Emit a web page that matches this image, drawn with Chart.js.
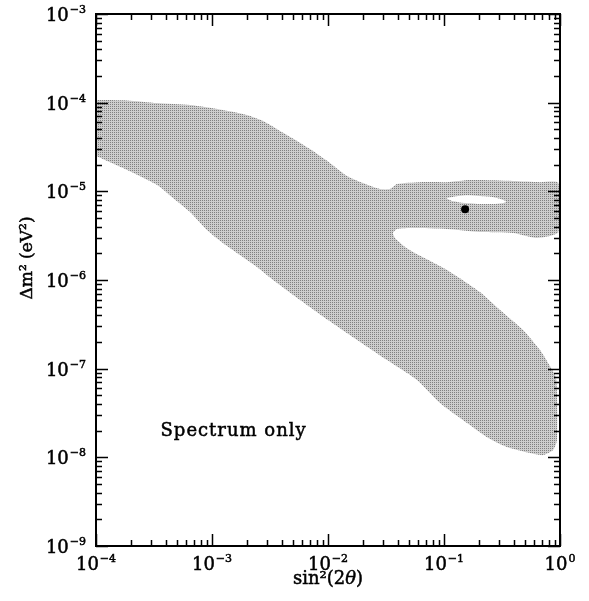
<!DOCTYPE html>
<html>
<head>
<meta charset="utf-8">
<script src="https://cdn.jsdelivr.net/npm/chart.js@4"></script>
<style>
  html, body { margin: 0; padding: 0; background: #fff; }
</style>
</head>
<body>
<canvas id="chart" width="589" height="601"></canvas>
<script>
// allowed region outline, clockwise from the upper-left corner
const regionX = [1e-4, 1.85e-4, 3.36e-4, 6.5e-4, 1.24e-3, 2.0e-3, 2.75e-3, 3.86e-3, 5.41e-3, 7.43e-3,
  1.04e-2, 1.46e-2, 2.0e-2, 2.81e-2, 3.42e-2, 3.93e-2, 6.21e-2, 0.106, 0.168, 0.394,
  0.673, 0.97, 0.97, 0.634, 0.394, 0.204, 0.106, 0.054, 0.0393, 0.0363,
  0.0378, 0.0462, 0.054, 0.106, 0.204, 0.304, 0.480, 0.673, 0.789, 0.925,
  0.942, 0.871, 0.714, 0.551, 0.349, 0.235, 0.158, 0.0924, 0.0585, 0.0323,
  0.0178, 0.0100, 5.74e-3, 3.36e-3, 2.44e-3, 1.74e-3, 1.24e-3, 9.05e-4, 6.46e-4, 4.61e-4,
  3.36e-4, 1.71e-4, 1e-4];
const regionY = [1.07e-4, 1.06e-4, 9.9e-5, 9.4e-5, 8.26e-5, 7.26e-5, 6.21e-5, 4.80e-5, 3.70e-5, 2.85e-5,
  2.09e-5, 1.49e-5, 1.24e-5, 1.06e-5, 1.06e-5, 1.21e-5, 1.27e-5, 1.27e-5, 1.34e-5, 1.31e-5,
  1.27e-5, 1.24e-5, 3.47e-6, 2.98e-6, 3.39e-6, 3.48e-6, 3.76e-6, 3.86e-6, 3.76e-6, 3.39e-6,
  2.98e-6, 2.36e-6, 2.07e-6, 1.30e-6, 7.33e-7, 4.59e-7, 2.73e-7, 1.62e-7, 1.16e-7, 7.85e-8,
  1.57e-8, 1.21e-8, 1.06e-8, 1.12e-8, 1.31e-8, 1.69e-8, 2.44e-8, 4.10e-8, 7.45e-8, 1.25e-7,
  2.11e-7, 3.54e-7, 5.95e-7, 1.0e-6, 1.40e-6, 1.91e-6, 2.61e-6, 3.66e-6, 5.85e-6, 8.41e-6,
  1.18e-5, 1.83e-5, 2.51e-5];

// excluded island inside the upper band
const holeX = [0.104, 0.146, 0.204, 0.286, 0.342, 0.249, 0.152, 0.117];
const holeY = [8.41e-6, 8.98e-6, 8.85e-6, 8.41e-6, 7.59e-6, 7.19e-6, 7.38e-6, 7.78e-6];

// best fit point
const bestX = [0.152];
const bestY = [6.3e-6];

const xTicks = [1e-4, 1e-3, 1e-2, 1e-1, 1];
const yTicks = [1e-9, 1e-8, 1e-7, 1e-6, 1e-5, 1e-4, 1e-3];

const noteText = 'Spectrum only';
const noteX = 3.6e-4;
const noteY = 1.75e-8;

const zip = (xs, ys) => xs.map((x, i) => ({ x, y: ys[i] }));

// stippled grey fill: one dark dot in every 2x2 cell
function makeStipple() {
  const c = document.createElement('canvas');
  c.width = 2; c.height = 2;
  const g = c.getContext('2d');
  g.fillStyle = '#cdcdcd';
  g.fillRect(0, 0, 2, 2);
  g.fillStyle = '#808080';
  g.fillRect(0, 0, 1, 1);
  return g.createPattern(c, 'repeat');
}

const SERIF = '"DejaVu Serif", serif';

// fill plus a thin stroke so the serif text reads a little heavier
function heavyText(ctx, str, x, y) {
  ctx.fillText(str, x, y);
  ctx.strokeText(str, x, y);
}

// "10" with a raised exponent; align is 'right' (y axis) or 'center' (x axis)
function drawPow(ctx, v, x, y, align) {
  const exp = String(Math.round(Math.log10(v))).replace('-', '\u2212');
  ctx.font = '18px ' + SERIF;
  const wBase = ctx.measureText('10').width;
  ctx.font = '11px ' + SERIF;
  const wExp = ctx.measureText(exp).width + 1;
  const total = wBase + wExp;
  const left = align === 'right' ? x - total : x - total / 2;
  ctx.font = '18px ' + SERIF;
  heavyText(ctx, '10', left, y);
  ctx.font = '11px ' + SERIF;
  heavyText(ctx, exp, left + wBase + 1, y - 8);
}

// inward ticks on all four sides, the frame, tick labels and the text
const frameAndText = {
  id: 'frameAndText',
  afterDraw(chart) {
    const { ctx, chartArea: a, scales: { x, y } } = chart;
    ctx.save();
    ctx.strokeStyle = '#000';
    ctx.lineWidth = 1.5;
    ctx.beginPath();
    for (let e = -4; e <= 0; e++) {
      for (let m = 1; m <= 9; m++) {
        const v = m * Math.pow(10, e);
        if (v > 1.0001) break;
        const px = Math.round(x.getPixelForValue(v)) + 0.5;
        const len = m === 1 ? 12 : 6;
        ctx.moveTo(px, a.bottom); ctx.lineTo(px, a.bottom - len);
        ctx.moveTo(px, a.top); ctx.lineTo(px, a.top + len);
      }
    }
    for (let e = -9; e <= -3; e++) {
      for (let m = 1; m <= 9; m++) {
        const v = m * Math.pow(10, e);
        if (v > 1.0001e-3) break;
        const py = Math.round(y.getPixelForValue(v)) + 0.5;
        const len = m === 1 ? 12 : 6;
        ctx.moveTo(a.left, py); ctx.lineTo(a.left + len, py);
        ctx.moveTo(a.right, py); ctx.lineTo(a.right - len, py);
      }
    }
    ctx.stroke();
    ctx.lineWidth = 2;
    ctx.strokeRect(a.left, a.top, a.right - a.left, a.bottom - a.top);

    ctx.fillStyle = '#000';
    ctx.lineWidth = 0.5;
    ctx.textBaseline = 'alphabetic';
    ctx.textAlign = 'left';

    xTicks.forEach(v => drawPow(ctx, v, x.getPixelForValue(v), a.bottom + 24, 'center'));
    yTicks.forEach(v => drawPow(ctx, v, a.left - 10, y.getPixelForValue(v) + 7, 'right'));

    ctx.font = '18px ' + SERIF;
    ctx.letterSpacing = '1px';
    heavyText(ctx, noteText, x.getPixelForValue(noteX), y.getPixelForValue(noteY));
    ctx.letterSpacing = '0px';

    // x axis title: sin²(2θ)
    const runs = [['sin²(2', ''], ['θ', 'italic '], [')', '']];
    let w = 0;
    runs.forEach(r => { ctx.font = r[1] + '18px ' + SERIF; w += ctx.measureText(r[0]).width; });
    let tx = (a.left + a.right) / 2 - w / 2;
    runs.forEach(r => {
      ctx.font = r[1] + '18px ' + SERIF;
      heavyText(ctx, r[0], tx, 584);
      tx += ctx.measureText(r[0]).width;
    });

    // y axis title
    ctx.save();
    ctx.translate(32, 258);
    ctx.rotate(-Math.PI / 2);
    ctx.textAlign = 'center';
    ctx.font = '17px ' + SERIF;
    heavyText(ctx, 'Δm² (eV²)', 0, 0);
    ctx.restore();
    ctx.restore();
  }
};

new Chart(document.getElementById('chart'), {
  type: 'scatter',
  data: {
    datasets: [
      {
        data: zip(bestX, bestY),
        pointRadius: 4,
        pointBackgroundColor: '#000',
        pointBorderWidth: 0,
        order: 1
      },
      {
        data: zip(holeX, holeY),
        showLine: true,
        fill: 'shape',
        backgroundColor: '#fff',
        borderWidth: 0,
        pointRadius: 0,
        tension: 0.4,
        order: 2
      },
      {
        data: zip(regionX, regionY),
        showLine: true,
        fill: 'shape',
        backgroundColor: makeStipple(),
        borderWidth: 0,
        pointRadius: 0,
        tension: 0.2,
        order: 3
      }
    ]
  },
  options: {
    responsive: false,
    animation: false,
    devicePixelRatio: 1,
    layout: { padding: { left: 0, top: 14, right: 29, bottom: 0 } },
    plugins: { legend: { display: false }, tooltip: { enabled: false } },
    scales: {
      x: {
        type: 'logarithmic',
        min: 1e-4,
        max: 1,
        afterBuildTicks: s => { s.ticks = xTicks.map(v => ({ value: v, major: true })); },
        afterFit: s => { s.height = 55; },
        grid: { display: false },
        border: { display: false },
        ticks: { display: false }
      },
      y: {
        type: 'logarithmic',
        min: 1e-9,
        max: 1e-3,
        afterBuildTicks: s => { s.ticks = yTicks.map(v => ({ value: v, major: true })); },
        afterFit: s => { s.width = 96; },
        grid: { display: false },
        border: { display: false },
        ticks: { display: false }
      }
    }
  },
  plugins: [frameAndText]
});
</script>
</body>
</html>
